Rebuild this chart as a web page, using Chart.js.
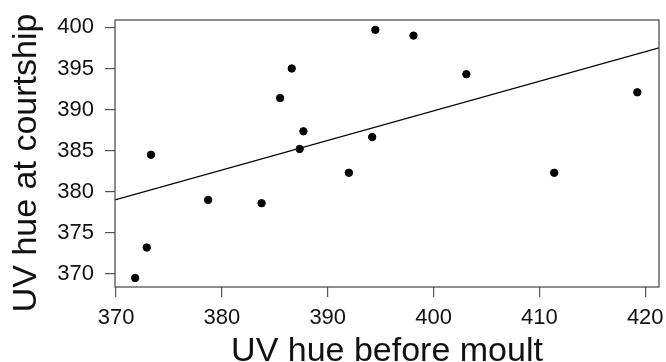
<!DOCTYPE html>
<html>
<head>
<meta charset="utf-8">
<script src="https://cdn.jsdelivr.net/npm/chart.js@4/dist/chart.umd.min.js"></script>
<style>
  body { margin: 0; background: #fff; }
  #wrap { width: 666px; height: 362px; }
</style>
</head>
<body>
<div id="wrap"><canvas id="uv-chart" width="666" height="362"></canvas></div>
<script>
// values
const uvBefore = [394.5, 398.1, 403.1, 386.6, 385.5, 387.7, 387.35, 394.2, 373.3, 392.0, 411.4, 419.25, 378.7, 383.75, 372.9, 371.8];
const uvCourtship = [399.7, 399.0, 394.3, 395.0, 391.4, 387.35, 385.2, 386.65, 384.5, 382.3, 382.3, 392.1, 379.0, 378.6, 373.2, 369.5];
const fitX = [369.9, 421.3];
const fitY = [379.0, 397.5];
const xTicks = [370, 380, 390, 400, 410, 420];
const yTicks = [370, 375, 380, 385, 390, 395, 400];

const ctx = document.getElementById('uv-chart');

const boxPlugin = {
    id: 'box',
    afterDatasetsDraw(chart) {
        const a = chart.chartArea;
        const c = chart.ctx;
        c.save();
        c.strokeStyle = '#444';
        c.lineWidth = 1.2;
        c.strokeRect(a.left, a.top, a.right - a.left, a.bottom - a.top);
        c.restore();
    }
};

const tickFont = { family: "'Liberation Sans', Arial, sans-serif", size: 22 };
const titleFont = { family: "'Liberation Sans', Arial, sans-serif", size: 34, lineHeight: 0.6 };

new Chart(ctx, {
    type: 'scatter',
    data: {
        datasets: [{
            label: 'birds',
            data: uvBefore.map((x, i) => ({ x: x, y: uvCourtship[i] })),
            backgroundColor: '#000',
            borderColor: '#000',
            pointRadius: 3.7,
            pointHoverRadius: 3.7
        }, {
            type: 'line',
            label: 'fit',
            data: fitX.map((x, i) => ({ x: x, y: fitY[i] })),
            borderColor: '#000',
            borderWidth: 1.2,
            pointRadius: 0,
            fill: false
        }]
    },
    options: {
        responsive: false,
        animation: false,
        layout: { padding: { top: 20, right: 7, left: 0, bottom: 0 } },
        plugins: {
            legend: { display: false },
            tooltip: { enabled: false }
        },
        scales: {
            x: {
                type: 'linear',
                min: 369.9,
                max: 421.3,
                afterBuildTicks: scale => { scale.ticks = xTicks.map(v => ({ value: v })); },
                afterFit: scale => {
                    scale.height = 75;
                    scale.paddingLeft = 0;
                    scale.paddingRight = 0;
                },
                grid: { drawOnChartArea: false, drawTicks: true, tickLength: 10, tickColor: '#555', lineWidth: 1.2 },
                border: { display: false },
                ticks: { font: tickFont, color: '#111', padding: 8, maxRotation: 0 },
                title: { display: true, text: 'UV hue before moult', font: titleFont, color: '#111', padding: { top: 0, bottom: 0.5 } }
            },
            y: {
                type: 'linear',
                min: 368.4,
                max: 400.9,
                afterBuildTicks: scale => { scale.ticks = yTicks.map(v => ({ value: v })); },
                afterFit: scale => {
                    scale.width = 115;
                    scale.paddingTop = 0;
                    scale.paddingBottom = 0;
                },
                grid: { drawOnChartArea: false, drawTicks: true, tickLength: 10, tickColor: '#555', lineWidth: 1.2 },
                border: { display: false },
                ticks: { font: tickFont, color: '#111', padding: 11 },
                title: { display: true, text: 'UV hue at courtship  ', font: titleFont, color: '#111', padding: { top: 16, bottom: 0 } }
            }
        }
    },
    plugins: [boxPlugin]
});
</script>
</body>
</html>
